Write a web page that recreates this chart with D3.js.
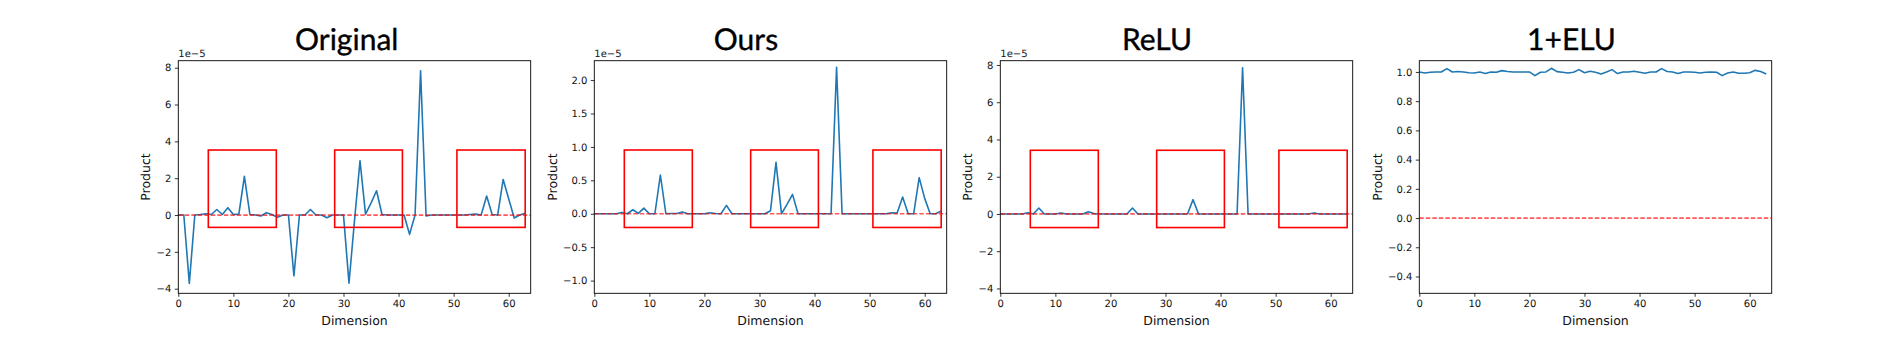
<!DOCTYPE html>
<html>
<head>
<meta charset="utf-8">
<script src="https://cdn.jsdelivr.net/npm/d3@7"></script>
<style>
  html, body { margin: 0; padding: 0; background: #fff; }
  svg { display: block; }
  text { text-rendering: geometricPrecision; }
</style>
</head>
<body>
<svg id="chart" width="1880" height="340"></svg>
<script>
// ---------------- DATA ----------------
const dimensions = d3.range(64);               // Dimension 0..63
const xTickValues = [0, 10, 20, 30, 40, 50, 60];

// Product values (panels 1-3 in units of 1e-5)
const originalValues = [
  0, 0, -3.71, 0, 0.03, 0.07, 0.03, 0.3, 0.03, 0.4,
  0.03, 0.05, 2.1, 0.03, 0, -0.05, 0.13, 0.03, -0.12, 0,
  0, -3.3, 0, 0, 0.3, 0, 0, -0.15, 0, 0,
  0, -3.7, -0.3, 2.95, 0.05, 0.65, 1.32, 0.03, 0, 0,
  0, 0, -1.05, 0, 7.83, -0.05, 0, 0, 0, 0,
  0, 0, 0, 0.03, 0.05, 0, 1.03, 0.03, 0, 1.93,
  0.88, -0.16, 0, 0.09
];
const oursValues = [
  0, 0, 0, 0, 0, 0.02, 0, 0.06, 0.005, 0.085,
  0, 0, 0.58, 0, 0.005, 0.005, 0.025, 0, 0, 0,
  0, 0.015, 0.005, 0, 0.125, 0, 0, 0, 0, 0,
  0, 0, 0.045, 0.77, 0, 0.14, 0.29, 0, 0, 0,
  0, 0, 0, 0, 2.19, 0, 0, 0, 0, 0,
  0, 0, 0, 0, 0.015, 0.01, 0.25, 0, 0, 0.54,
  0.23, 0, 0, 0.04
];
const reluValues = [
  0, 0, 0, 0, 0, 0.07, 0, 0.32, 0, 0,
  0, 0.05, 0, 0, 0, 0, 0.12, 0.02, 0, 0,
  0, 0, 0, 0, 0.32, 0, 0, 0, 0, 0,
  0, 0, 0, 0, 0, 0.77, 0, 0, 0, 0,
  0, 0, 0, 0, 7.85, 0, 0, 0, 0, 0,
  0, 0, 0, 0, 0, 0, 0, 0.05, 0, 0,
  0, 0, 0, 0
];
const eluValues = [
  1.0, 0.993, 0.998, 1.0, 1.0, 1.023, 1.0, 1.003, 1.0, 0.995,
  0.993, 1.0, 0.99, 1.0, 0.998, 1.009, 1.003, 1.0, 1.0, 1.0,
  1.0, 0.975, 0.998, 1.0, 1.025, 1.002, 0.998, 0.993, 0.998, 1.016,
  0.995, 1.005, 0.998, 0.986, 1.0, 1.016, 0.989, 1.0, 1.0, 1.005,
  0.998, 0.991, 1.0, 1.0, 1.023, 1.003, 1.0, 0.989, 1.0, 1.0,
  0.998, 0.993, 0.998, 1.0, 0.998, 0.975, 0.993, 1.0, 0.991, 0.991,
  0.995, 1.011, 1.003, 0.986
];

const titles = ["Original", "Ours", "ReLU", "1+ELU"];
const yTicksOriginal = [-4, -2, 0, 2, 4, 6, 8];
const yTicksOurs = [-1.0, -0.5, 0.0, 0.5, 1.0, 1.5, 2.0];
const yTicksRelu = [-4, -2, 0, 2, 4, 6, 8];
const yTicksElu = [-0.4, -0.2, 0.0, 0.2, 0.4, 0.6, 0.8, 1.0];

// highlighted dimension ranges (red boxes)
const boxStarts = [5.45, 28.4, 50.6];
const boxEnds = [17.8, 40.7, 63.0];

// ---------------- LAYOUT ----------------
const axTop = 60.7, axBottom = 293.3, axW = 352.4;
const panels = [
  { title: titles[0], values: originalValues, ticks: yTicksOriginal, fmt: d3.format("d"),
    yDomain: [-4.25, 8.38], boxY: [-0.67, 3.53], offset: "1e\u22125", left: 178.3, titleX: 346.7 },
  { title: titles[1], values: oursValues, ticks: yTicksOurs, fmt: d3.format(".1f"),
    yDomain: [-1.19, 2.29], boxY: [-0.205, 0.954], offset: "1e\u22125", left: 594.3, titleX: 746 },
  { title: titles[2], values: reluValues, ticks: yTicksRelu, fmt: d3.format("d"),
    yDomain: [-4.26, 8.23], boxY: [-0.73, 3.42], offset: "1e\u22125", left: 1000.3, titleX: 1157 },
  { title: titles[3], values: eluValues, ticks: yTicksElu, fmt: d3.format(".1f"),
    yDomain: [-0.515, 1.077], boxY: null, offset: null, left: 1419.3, titleX: 1571.5 }
];

const svg = d3.select("#chart");
svg.append("rect").attr("width", 1880).attr("height", 340).attr("fill", "#fff");

const tickFont = "DejaVu Sans, sans-serif";

panels.forEach((p, pi) => {
  const x = d3.scaleLinear().domain([0, 64]).range([p.left, p.left + axW]);
  const y = d3.scaleLinear().domain(p.yDomain).range([axBottom, axTop]);
  const g = svg.append("g");

  const clipId = "clip" + pi;
  g.append("clipPath").attr("id", clipId).append("rect")
    .attr("x", p.left).attr("y", axTop).attr("width", axW).attr("height", axBottom - axTop);

  const plot = g.append("g").attr("clip-path", `url(#${clipId})`);

  // data line
  const line = d3.line().x((d, i) => x(dimensions[i])).y(d => y(d));
  plot.append("path").datum(p.values)
    .attr("d", line).attr("fill", "none")
    .attr("stroke", "#1f77b4").attr("stroke-width", 1.6)
    .attr("stroke-linejoin", "round").attr("stroke-linecap", "butt");

  // zero reference line
  plot.append("line")
    .attr("x1", x(0)).attr("x2", x(64)).attr("y1", y(0)).attr("y2", y(0))
    .attr("stroke", "red").attr("stroke-opacity", 0.65)
    .attr("stroke-width", 1.7).attr("stroke-dasharray", "4.5 2");

  // red boxes
  if (p.boxY) {
    boxStarts.forEach((s, k) => {
      g.append("rect")
        .attr("x", x(s)).attr("y", y(p.boxY[1]))
        .attr("width", x(boxEnds[k]) - x(s))
        .attr("height", y(p.boxY[0]) - y(p.boxY[1]))
        .attr("fill", "none").attr("stroke", "#ff0000").attr("stroke-width", 1.6);
    });
  }

  // axes
  const xAxis = g.append("g").attr("transform", `translate(0,${axBottom})`)
    .call(d3.axisBottom(x).tickValues(xTickValues).tickSize(3.5).tickPadding(3.5).tickFormat(d3.format("d")));
  const yAxis = g.append("g").attr("transform", `translate(${p.left},0)`)
    .call(d3.axisLeft(y).tickValues(p.ticks).tickSize(3.5).tickPadding(3.5).tickFormat(p.fmt));
  [xAxis, yAxis].forEach(a => {
    a.select(".domain").remove();
    a.selectAll(".tick line").attr("stroke", "#000").attr("stroke-width", 0.8);
    a.selectAll(".tick text").attr("font-family", tickFont).attr("font-size", 10).attr("fill", "#111");
  });

  // frame
  g.append("rect").attr("x", p.left).attr("y", axTop).attr("width", axW).attr("height", axBottom - axTop)
    .attr("fill", "none").attr("stroke", "#000").attr("stroke-width", 0.9);

  // axis labels
  g.append("text").attr("x", p.left + axW / 2).attr("y", 324.5)
    .attr("text-anchor", "middle").attr("font-family", tickFont).attr("font-size", 12.5)
    .attr("fill", "#111").text("Dimension");

  const bb = yAxis.node().getBBox();
  g.append("text")
    .attr("transform", `translate(${p.left + bb.x - 6.5},${(axTop + axBottom) / 2}) rotate(-90)`)
    .attr("text-anchor", "middle").attr("font-family", tickFont).attr("font-size", 12.5)
    .attr("fill", "#111").text("Product");

  if (p.offset) {
    g.append("text").attr("x", p.left).attr("y", 56.5)
      .attr("font-family", tickFont).attr("font-size", 10).attr("fill", "#111").text(p.offset);
  }

  g.append("text").attr("x", p.titleX).attr("y", 50)
    .attr("text-anchor", "middle").attr("font-family", "Lato, sans-serif")
    .attr("font-size", 30).attr("font-weight", 400)
    .attr("fill", "#000").attr("stroke", "#000").attr("stroke-width", 0.35)
    .text(p.title);
});
</script>
</body>
</html>
